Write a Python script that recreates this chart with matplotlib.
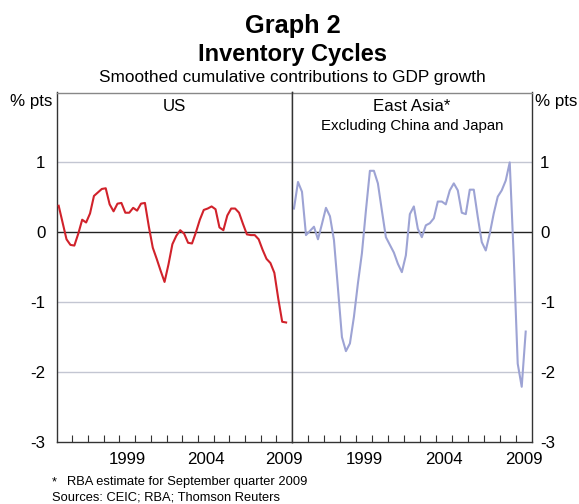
import numpy as np
import matplotlib
matplotlib.use('Agg')
import matplotlib.pyplot as plt

plt.rcParams['font.family'] = ['Liberation Sans', 'DejaVu Sans']

# ========================
# Data (quarterly, 1995 Q1 - 2009 Q3)
# ========================
start_year = 1995
us = [0.38, 0.14, -0.10, -0.18, -0.19, -0.02, 0.18, 0.14, 0.27, 0.52,
      0.57, 0.62, 0.63, 0.40, 0.30, 0.41, 0.42, 0.28, 0.28, 0.35,
      0.31, 0.41, 0.42, 0.08, -0.22, -0.38, -0.55, -0.71, -0.46, -0.17,
      -0.05, 0.03, -0.02, -0.15, -0.16, 0.00, 0.18, 0.32, 0.34, 0.37,
      0.33, 0.07, 0.03, 0.24, 0.34, 0.34, 0.28, 0.12, -0.03, -0.04,
      -0.04, -0.10, -0.25, -0.38, -0.44, -0.58, -0.95, -1.28, -1.29]
east_asia = [0.34, 0.72, 0.58, -0.04, 0.02, 0.08, -0.10, 0.12, 0.35, 0.23,
             -0.11, -0.80, -1.50, -1.70, -1.59, -1.21, -0.73, -0.30, 0.31, 0.88,
             0.88, 0.70, 0.31, -0.07, -0.18, -0.29, -0.45, -0.57, -0.33, 0.26,
             0.37, 0.05, -0.07, 0.10, 0.13, 0.20, 0.44, 0.44, 0.40, 0.60,
             0.70, 0.60, 0.28, 0.26, 0.61, 0.61, 0.22, -0.14, -0.26, -0.02,
             0.27, 0.51, 0.60, 0.74, 1.00, -0.35, -1.88, -2.21, -1.42]
year_labels = ['1999', '2004', '2009']
y_ticks = [-3, -2, -1, 0, 1, 2]

# quarters plotted at mid-quarter
t = start_year + 0.125 + 0.25 * np.arange(len(us))

W, H = 579, 504
fig = plt.figure(figsize=(W / 100, H / 100), dpi=100)

left, mid, right = 56.7, 292.0, 531.7
top, bottom = 92.5, 442.0
ax1 = fig.add_axes([left / W, 1 - bottom / H, (mid - left) / W, (bottom - top) / H])
ax2 = fig.add_axes([mid / W, 1 - bottom / H, (right - mid) / W, (bottom - top) / H])

grid_col = '#c3c6d2'
for ax, series, col in [(ax1, us, '#d1222b'), (ax2, east_asia, '#9da3d4')]:
    ax.set_xlim(1995, 2010)
    ax.set_ylim(-3, 2)
    for yv in [-2, -1, 1]:
        ax.axhline(yv, color=grid_col, linewidth=1.0, zorder=1)
    ax.axhline(0, color='#222222', linewidth=1.0, zorder=2)
    ax.plot(t, series, color=col, linewidth=1.5, zorder=3)
    # minor ticks at year boundaries, labels at mid-year
    ax.set_xticks(np.arange(1996, 2010), minor=True)
    ax.set_xticks([int(y) + 0.5 for y in year_labels])
    ax.set_xticklabels(year_labels, fontsize=12.2)
    ax.tick_params(axis='x', which='major', length=0, pad=7)
    ax.tick_params(axis='x', which='minor', direction='in', length=5,
                   width=0.8, color='#333333')
    ax.set_yticks(y_ticks[:-1])
    ax.tick_params(axis='y', length=0)
    for s in ax.spines.values():
        s.set_color('#333333')
        s.set_linewidth(1.0)
    ax.spines['top'].set_color('#888888')

ax1.set_yticklabels([str(v) for v in y_ticks[:-1]], fontsize=12.2)
ax1.tick_params(axis='y', pad=8)
ax2.yaxis.tick_right()
ax2.set_yticklabels([str(v) for v in y_ticks[:-1]], fontsize=12.2)
ax2.tick_params(axis='y', pad=6)
ax2.spines['left'].set_zorder(5)

ax1.text(0.5, 0.961, 'US', transform=ax1.transAxes, ha='center', va='center', fontsize=12.2)
ax2.text(0.5, 0.961, 'East Asia*', transform=ax2.transAxes, ha='center', va='center', fontsize=12.2)
ax2.text(0.5, 0.904, 'Excluding China and Japan', transform=ax2.transAxes,
         ha='center', va='center', fontsize=10.8)

fig.text(52 / W, 1 - 106 / H, '% pts', ha='right', va='baseline', fontsize=12.2)
fig.text(535 / W, 1 - 106 / H, '% pts', ha='left', va='baseline', fontsize=12.2)

fig.text(292.5 / W, 1 - 33 / H, 'Graph 2', ha='center', va='baseline',
         fontsize=18.3, fontweight='bold')
fig.text(292.5 / W, 1 - 61 / H, 'Inventory Cycles', ha='center', va='baseline',
         fontsize=17, fontweight='bold')
fig.text(292.5 / W, 1 - 82 / H, 'Smoothed cumulative contributions to GDP growth',
         ha='center', va='baseline', fontsize=12.4)

fig.text(52 / W, 1 - 485 / H, '*', ha='left', va='baseline', fontsize=9.3)
fig.text(67 / W, 1 - 485 / H, 'RBA estimate for September quarter 2009',
         ha='left', va='baseline', fontsize=9.3)
fig.text(52 / W, 1 - 500 / H, 'Sources: CEIC; RBA; Thomson Reuters',
         ha='left', va='baseline', fontsize=9.3)

fig.savefig('out.png', dpi=100)
